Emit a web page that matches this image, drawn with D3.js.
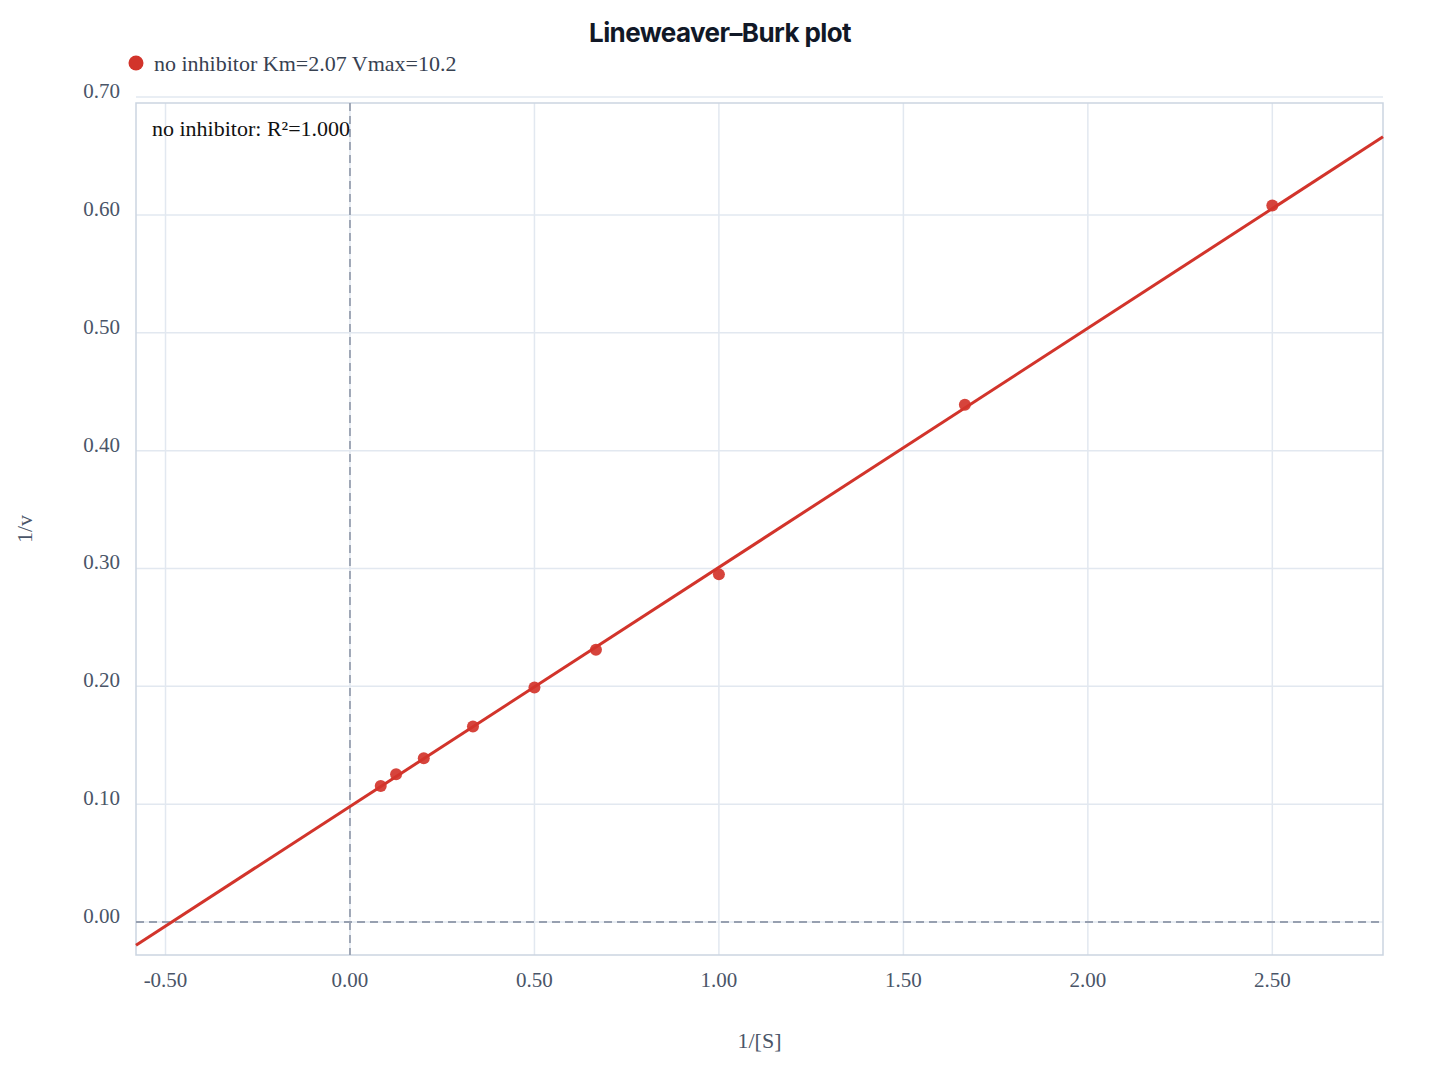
<!DOCTYPE html>
<html>

<head>
    <meta charset="UTF-8">
    <title>Lineweaver-Burk</title>
    <script src="https://cdn.jsdelivr.net/npm/d3@7"></script>
    <style>
        body { margin: 0; background: #fff; }
        svg { display: block; }
    </style>
</head>

<body>
    <svg id="chart"></svg>
    <script>
        // measured points, 1/[S] and 1/v
        var invS = [1 / 12, 1 / 8, 1 / 5, 1 / 3, 1 / 2, 2 / 3, 1, 5 / 3, 2.5];
        var invV = [0.1155, 0.1254, 0.139, 0.166, 0.199, 0.231, 0.295, 0.439, 0.608];

        // fit parameters
        var seriesName = "no inhibitor";
        var Km = 2.07, Vmax = 10.2, r2 = 1.000;

        var xTicks = [-0.5, 0, 0.5, 1, 1.5, 2, 2.5];
        var yTicks = [0, 0.1, 0.2, 0.3, 0.4, 0.5, 0.6, 0.7];

        var svgWidth = 1440, svgHeight = 1080;
        var margin = { top: 103, right: 57, bottom: 125, left: 136 };
        var width = svgWidth - margin.left - margin.right;
        var height = svgHeight - margin.top - margin.bottom;

        var red = "#d2342b";
        var serif = "'Liberation Serif', 'Times New Roman', serif";

        var svg = d3.select("#chart")
            .attr("width", svgWidth)
            .attr("height", svgHeight);

        var x = d3.scaleLinear().domain([-0.58, 2.8]).range([0, width]);
        var y = d3.scaleLinear().domain([-0.028, 0.695]).range([height, 0]);

        var g = svg.append("g")
            .attr("transform", "translate(" + margin.left + "," + margin.top + ")");

        // grid
        g.append("g").selectAll("line")
            .data(xTicks).join("line")
            .attr("x1", d => x(d)).attr("x2", d => x(d))
            .attr("y1", 0).attr("y2", height)
            .attr("stroke", "#e2e8f0").attr("stroke-width", 1.5);

        g.append("g").selectAll("line")
            .data(yTicks).join("line")
            .attr("x1", 0).attr("x2", width)
            .attr("y1", d => y(d)).attr("y2", d => y(d))
            .attr("stroke", "#e2e8f0").attr("stroke-width", 1.5);

        // frame
        g.append("rect")
            .attr("width", width).attr("height", height)
            .attr("fill", "none")
            .attr("stroke", "#cbd5e1").attr("stroke-width", 1.5);

        // zero reference lines
        g.append("line")
            .attr("x1", x(0)).attr("x2", x(0))
            .attr("y1", 0).attr("y2", height)
            .attr("stroke", "#97a0b0").attr("stroke-width", 1.8)
            .attr("stroke-dasharray", "8,5");
        g.append("line")
            .attr("x1", 0).attr("x2", width)
            .attr("y1", y(0)).attr("y2", y(0))
            .attr("stroke", "#97a0b0").attr("stroke-width", 1.8)
            .attr("stroke-dasharray", "8,5");

        // tick labels (plain hyphen for negatives, like the original)
        var fmt = d => d3.format(".2f")(d).replace("\u2212", "-");
        g.append("g").selectAll("text")
            .data(xTicks).join("text")
            .attr("x", d => x(d))
            .attr("y", height + 32)
            .attr("text-anchor", "middle")
            .attr("font-family", serif).attr("font-size", 21)
            .attr("fill", "#4a5568")
            .text(d => fmt(d));

        g.append("g").selectAll("text")
            .data(yTicks).join("text")
            .attr("x", -16)
            .attr("y", d => y(d) + 1)
            .attr("text-anchor", "end")
            .attr("font-family", serif).attr("font-size", 21)
            .attr("fill", "#4a5568")
            .text(d => fmt(d));

        // axis titles
        g.append("text")
            .attr("x", width / 2).attr("y", height + 93)
            .attr("text-anchor", "middle")
            .attr("font-family", serif).attr("font-size", 22)
            .attr("fill", "#4a5568")
            .text("1/[S]");

        g.append("text")
            .attr("transform", "translate(" + (-104) + "," + (height / 2) + ") rotate(-90)")
            .attr("text-anchor", "middle")
            .attr("font-family", serif).attr("font-size", 22)
            .attr("fill", "#4a5568")
            .text("1/v");

        // fitted line 1/v = (Km/Vmax)(1/[S]) + 1/Vmax
        var fit = x.domain().map(s => ({ s: s, v: (Km / Vmax) * s + 1 / Vmax }));
        var line = d3.line().x(d => x(d.s)).y(d => y(d.v));
        g.append("path")
            .datum(fit)
            .attr("fill", "none")
            .attr("stroke", red)
            .attr("stroke-width", 3)
            .attr("d", line);

        // points
        g.append("g").selectAll("circle")
            .data(invS.map((s, i) => ({ s: s, v: invV[i] })))
            .join("circle")
            .attr("cx", d => x(d.s))
            .attr("cy", d => y(d.v))
            .attr("r", 6)
            .attr("fill", red)
            .attr("fill-opacity", 0.92);

        // R² note
        g.append("text")
            .attr("x", 16).attr("y", 33)
            .attr("font-family", serif).attr("font-size", 22)
            .attr("fill", "#111")
            .text(seriesName + ": R²=" + r2.toFixed(3));

        // title
        svg.append("text")
            .attr("x", 720).attr("y", 42)
            .attr("text-anchor", "middle")
            .attr("font-family", "Inter, sans-serif")
            .attr("font-weight", 700)
            .attr("font-size", 26)
            .attr("letter-spacing", -0.6)
            .attr("fill", "#111827")
            .text("Lineweaver–Burk plot");

        // legend
        var lg = svg.append("g").attr("transform", "translate(136,63)");
        lg.append("circle").attr("r", 7.5).attr("fill", red);
        lg.append("text")
            .attr("x", 18).attr("y", 8)
            .attr("font-family", serif).attr("font-size", 22)
            .attr("fill", "#374151")
            .text(seriesName + " Km=" + Km.toFixed(2) + " Vmax=" + Vmax.toFixed(1));
    </script>
</body>

</html>
